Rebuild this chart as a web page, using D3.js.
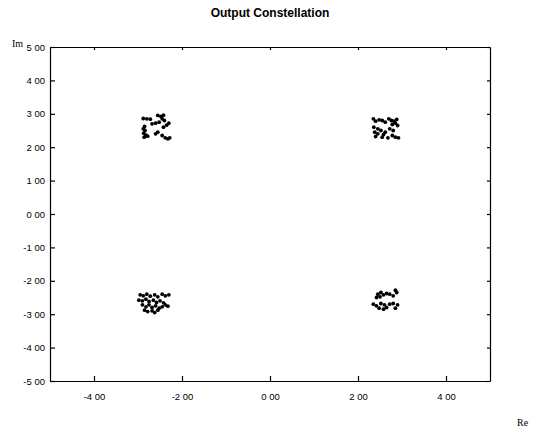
<!DOCTYPE html>
<html><head><meta charset="utf-8">
<script src="https://cdn.jsdelivr.net/npm/d3@7"></script>
<style>body{margin:0;background:#fff}svg{display:block}</style>
</head><body>
<svg id="c" width="538" height="432"></svg>
<script>
const title = "Output Constellation";
const xTicks = [-4, -2, 0, 2, 4];
const xTickLabels = ["-4 00", "-2 00", "0 00", "2 00", "4 00"];
const yTicks = [5, 4, 3, 2, 1, 0, -1, -2, -3, -4, -5];
const yTickLabels = ["5 00", "4 00", "3 00", "2 00", "1 00", "0 00", "-1 00", "-2 00", "-3 00", "-4 00", "-5 00"];
const clusterTL = [[-2.88,2.86],[-2.80,2.85],[-2.72,2.84],[-2.55,2.95],[-2.48,2.92],[-2.42,2.96],[-2.45,2.85],[-2.40,2.80],[-2.52,2.75],[-2.60,2.72],[-2.68,2.70],[-2.85,2.62],[-2.88,2.55],[-2.84,2.50],[-2.87,2.42],[-2.82,2.36],[-2.86,2.30],[-2.78,2.33],[-2.55,2.45],[-2.60,2.40],[-2.45,2.35],[-2.38,2.28],[-2.32,2.25],[-2.28,2.28],[-2.42,2.60],[-2.35,2.66],[-2.30,2.72]];
const clusterTR = [[2.35,2.85],[2.40,2.78],[2.48,2.82],[2.55,2.80],[2.62,2.75],[2.70,2.85],[2.76,2.80],[2.82,2.78],[2.88,2.83],[2.85,2.72],[2.78,2.68],[2.90,2.65],[2.36,2.60],[2.45,2.55],[2.52,2.50],[2.38,2.45],[2.45,2.40],[2.58,2.38],[2.62,2.45],[2.55,2.30],[2.68,2.28],[2.78,2.35],[2.85,2.30],[2.92,2.28],[2.40,2.32],[2.72,2.55],[2.80,2.50]];
const clusterBL = [[-2.95,-2.42],[-2.88,-2.45],[-2.80,-2.40],[-2.72,-2.46],[-2.62,-2.42],[-2.55,-2.48],[-2.45,-2.40],[-2.38,-2.45],[-2.30,-2.42],[-2.98,-2.58],[-2.90,-2.60],[-2.82,-2.55],[-2.75,-2.62],[-2.65,-2.58],[-2.58,-2.65],[-2.50,-2.60],[-2.42,-2.66],[-2.90,-2.72],[-2.82,-2.78],[-2.75,-2.72],[-2.68,-2.80],[-2.60,-2.75],[-2.52,-2.82],[-2.45,-2.78],[-2.38,-2.72],[-2.32,-2.76],[-2.85,-2.88],[-2.78,-2.92],[-2.68,-2.90],[-2.62,-2.95],[-2.55,-2.88]];
const clusterBR = [[2.45,-2.40],[2.52,-2.35],[2.58,-2.42],[2.65,-2.38],[2.72,-2.40],[2.85,-2.28],[2.88,-2.35],[2.80,-2.45],[2.42,-2.50],[2.50,-2.48],[2.35,-2.70],[2.42,-2.75],[2.52,-2.68],[2.60,-2.72],[2.65,-2.80],[2.58,-2.85],[2.72,-2.70],[2.80,-2.68],[2.85,-2.82],[2.48,-2.82],[2.90,-2.72]];

const svg = d3.select("#c");
const L = 50, R = 490, T = 47, B = 381;
const x = d3.scaleLinear().domain([-5, 5]).range([L, R]);
const y = d3.scaleLinear().domain([-5, 5]).range([B, T]);

svg.append("text").attr("x", 270).attr("y", 17).attr("text-anchor", "middle")
  .attr("font-family", "Liberation Sans, Arial, sans-serif").attr("font-weight", "bold")
  .attr("font-size", 12).text(title);

const fmtX = d => xTickLabels[xTicks.indexOf(d)];
const fmtY = d => yTickLabels[yTicks.indexOf(d)];

const gx = svg.append("g").attr("transform", `translate(0,${B})`)
  .call(d3.axisBottom(x).tickValues(xTicks).tickFormat(fmtX).tickSizeInner(-5).tickSizeOuter(0).tickPadding(12));
const gy = svg.append("g").attr("transform", `translate(${L},0)`)
  .call(d3.axisLeft(y).tickValues(yTicks).tickFormat(fmtY).tickSizeInner(-5).tickSizeOuter(0).tickPadding(5));
const gt = svg.append("g").attr("transform", `translate(0,${T})`)
  .call(d3.axisTop(x).tickValues(xTicks).tickFormat("").tickSizeInner(-3).tickSizeOuter(0));
const gr = svg.append("g").attr("transform", `translate(${R},0)`)
  .call(d3.axisRight(y).tickValues(yTicks).tickFormat("").tickSizeInner(-3).tickSizeOuter(0));
[gx, gy, gt, gr].forEach(g => {
  g.selectAll(".domain").attr("stroke", "#000").attr("stroke-width", 1.2);
  g.selectAll(".tick line").attr("stroke", "#000").attr("stroke-width", 1.2);
  g.selectAll("text").attr("font-family", "Liberation Sans, Arial, sans-serif")
    .attr("font-size", 9.5).attr("fill", "#000");
});

svg.append("text").attr("x", 12).attr("y", 47).attr("font-family", "Liberation Serif, Times New Roman, serif")
  .attr("font-size", 10).text("Im");
svg.append("text").attr("x", 517).attr("y", 426).attr("font-family", "Liberation Serif, Times New Roman, serif")
  .attr("font-size", 10).text("Re");

const pts = [].concat(clusterTL, clusterTR, clusterBL, clusterBR);
svg.append("g").selectAll("circle").data(pts).join("circle")
  .attr("cx", d => x(d[0])).attr("cy", d => y(d[1])).attr("r", 1.9).attr("fill", "#000");
</script>
</body></html>
